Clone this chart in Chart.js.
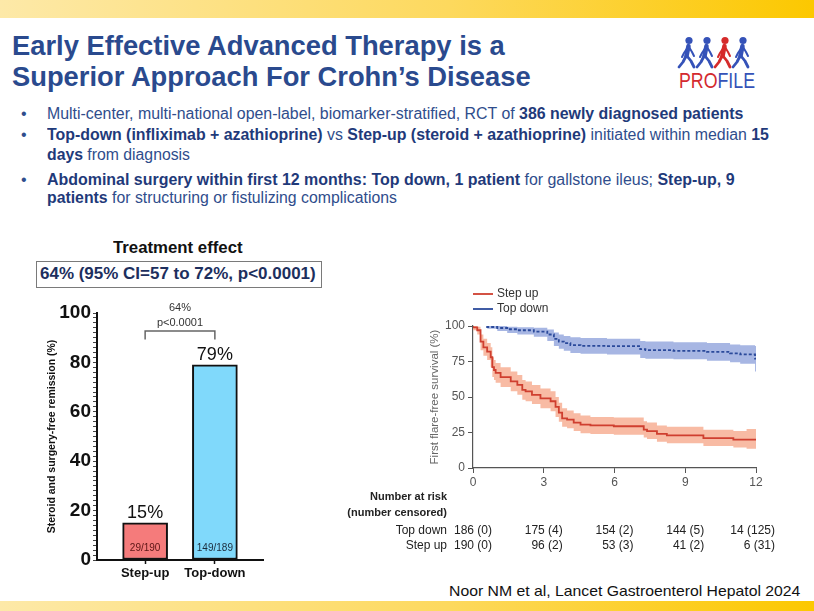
<!DOCTYPE html>
<html>
<head>
<meta charset="utf-8">
<script src="https://cdn.jsdelivr.net/npm/chart.js@4.4.1/dist/chart.umd.min.js"></script>
<style>
  body { margin:0; width:814px; height:611px; position:relative; overflow:hidden; background:#fff;
         font-family:'Liberation Sans', Arial, sans-serif; }
  .band { position:absolute; left:0; width:814px;
          background:linear-gradient(to right, #fde9a8 0%, #fdd95e 55%, #fcc800 100%); }
  .t { position:absolute; white-space:nowrap; transform-origin:0 0; line-height:1; }
  .title { font-size:28px; font-weight:bold; color:#2a4a8e; }
  .bl { font-size:16px; color:#2f4d8c; }
  .bl b { color:#1f3a7a; }
  .dot { position:absolute; left:21px; font-size:16px; line-height:1; color:#2f4d8c; }
  canvas { position:absolute; }
</style>
</head>
<body>

<div class="band" style="top:0;height:18px"></div>
<div class="band" style="top:601px;height:10px"></div>

<div class="t title" style="left:12px;top:32px" data-w="493">Early Effective Advanced Therapy is a</div>
<div class="t title" style="left:12px;top:63px" data-w="519">Superior Approach For Crohn’s Disease</div>

<svg style="position:absolute;left:676px;top:36px" width="84" height="56" id="logo"></svg>

<div class="dot" style="top:106px">•</div>
<div class="t bl" style="left:47px;top:106px" data-w="696">Multi-center, multi-national open-label, biomarker-stratified, RCT of <b>386 newly diagnosed patients</b></div>
<div class="dot" style="top:127px">•</div>
<div class="t bl" style="left:47px;top:127px" data-w="722"><b>Top-down (infliximab + azathioprine)</b> vs <b>Step-up (steroid + azathioprine)</b> initiated within median <b>15</b></div>
<div class="t bl" style="left:47px;top:147px" data-w="143"><b>days</b> from diagnosis</div>
<div class="dot" style="top:172px">•</div>
<div class="t bl" style="left:47px;top:172px" data-w="688"><b>Abdominal surgery within first 12 months: Top down, 1 patient</b> for gallstone ileus; <b>Step-up, 9</b></div>
<div class="t bl" style="left:47px;top:190px" data-w="350"><b>patients</b> for structuring or fistulizing complications</div>

<div class="t" style="left:113px;top:240px;font-size:16px;font-weight:bold;color:#111" data-w="130">Treatment effect</div>
<div style="position:absolute;left:36px;top:261px;width:284px;height:25px;border:1.5px solid #7a7a7a"></div>
<div class="t" style="left:40px;top:266px;font-size:16px;font-weight:bold;color:#1d2f5e" data-w="276">64% (95% CI=57 to 72%, p&lt;0.0001)</div>

<canvas id="bars" width="290" height="300" style="left:30px;top:290px"></canvas>
<canvas id="km" width="440" height="285" style="left:340px;top:280px"></canvas>

<div class="t" style="left:449px;top:583px;font-size:15px;color:#111" data-w="351">Noor NM et al, Lancet Gastroenterol Hepatol 2024</div>

<script>
// ---- bar chart data
const barLabels = ['Step-up', 'Top-down'];
const barValues = [15, 79];
const barCounts = ['29/190', '149/189'];
const barColors = ['#f57b7b', '#80d9fb'];

// ---- Kaplan-Meier data (months, % flare-free)
const stepUpX     = [0, 0.18, 0.32, 0.44, 0.6, 0.75, 0.82, 0.89, 0.96, 1.17, 1.6, 1.88, 2.09, 2.23, 2.5, 2.86, 3.29, 3.5, 3.64, 3.78, 3.99, 4.27, 4.56, 4.98, 5.97, 7.24, 7.38, 7.8, 8.22, 9.77, 11.04, 11.6, 12];
const stepUpSurv  = [100, 99, 97, 89, 85, 82, 78, 71, 69, 67, 64, 61, 58.5, 55, 54, 51.5, 49, 47, 43, 39, 35, 34, 32, 30.5, 30, 29.4, 27, 26, 24, 23, 21, 20, 20];
const stepUpUpper = [100, 100, 99.5, 94, 91, 88, 85, 78, 76, 74, 71, 68, 65.5, 62, 61, 58.5, 56, 54, 50, 46, 42, 40.5, 38.5, 37, 36, 35.5, 33, 32, 30, 29, 27, 26, 27.5];
const stepUpLower = [100, 97, 94, 83, 79, 76, 71, 64, 62, 60, 57, 54, 51.5, 48, 47, 45, 42, 40, 36, 32.5, 29, 28, 26, 24.5, 24, 23.5, 21.5, 20.5, 18.5, 17.5, 15.5, 14.5, 13.5];

const topDownX     = [0.6, 1.03, 1.45, 1.88, 2.58, 3.15, 3.43, 3.64, 3.85, 4.13, 4.56, 5.68, 7.09, 7.31, 8.5, 9.92, 10.9, 11.33, 11.96, 12];
const topDownSurv  = [100, 99.3, 98.6, 97.7, 97, 96, 94, 91, 89, 88, 86.5, 86, 85.8, 83.7, 83, 82.5, 81.8, 80.7, 80, 77];
const topDownUpper = [100, 100, 100, 99.5, 99.2, 98.8, 97.5, 95.5, 94, 93, 92, 91.5, 91, 89.5, 89, 88.5, 88, 87, 86.5, 86];
const topDownLower = [100, 98, 96.5, 95, 94, 92.5, 89.5, 86, 84, 82.5, 81, 80.5, 80, 77.5, 77, 76.5, 75.5, 74.5, 73.5, 68];

// ---- number at risk table
const riskTimes   = [0, 3, 6, 9, 12];
const topDownRisk = ['186 (0)', '175 (4)', '154 (2)', '144 (5)', '14 (125)'];
const stepUpRisk  = ['190 (0)', '96 (2)', '53 (3)', '41 (2)', '6 (31)'];

// squeeze text lines to the widths of the slide
document.querySelectorAll('[data-w]').forEach(el => {
  el.style.transform = 'scaleX(' + (el.dataset.w / el.offsetWidth) + ')';
});

// logo: four walkers + PROFILE
(function () {
  const svg = document.getElementById('logo');
  const cols = ['#3552b8', '#3552b8', '#d52b2b', '#3552b8'];
  let s = '';
  cols.forEach((c, k) => {
    const x = 9 + k * 18;
    s += `<g stroke="${c}" fill="none" stroke-linecap="round" stroke-linejoin="round">
      <circle cx="${x + 4}" cy="4.5" r="3.6" fill="${c}" stroke="none"/>
      <line x1="${x + 3.5}" y1="10" x2="${x + 1.5}" y2="20" stroke-width="4.5"/>
      <polyline points="${x + 3},11 ${x - 1},17 ${x - 3},21" stroke-width="2"/>
      <polyline points="${x + 4},11 ${x + 7},16 ${x + 9},20" stroke-width="2"/>
      <polyline points="${x + 1},20 ${x - 2},26 ${x - 6},31" stroke-width="2.8"/>
      <polyline points="${x + 2},20 ${x + 6},25 ${x + 9},31" stroke-width="2.8"/></g>`;
  });
  s += `<text x="3" y="52" font-family="Liberation Sans Narrow, Liberation Sans, Arial" font-size="22" textLength="76" lengthAdjust="spacingAndGlyphs"><tspan fill="#d42a2f">PRO</tspan><tspan fill="#3552b8">FILE</tspan></text>`;
  svg.innerHTML = s;
})();

// ---- bar chart
const barExtras = {
  id: 'barExtras',
  afterDatasetsDraw(chart) {
    const { ctx, scales: { y } } = chart;
    const bars = chart.getDatasetMeta(0).data;
    ctx.save();
    ctx.textAlign = 'center';
    bars.forEach((bar, i) => {
      ctx.fillStyle = '#111';
      ctx.font = '18px "Liberation Sans", Arial';
      ctx.textBaseline = 'alphabetic';
      ctx.fillText(barValues[i] + '%', bar.x, bar.y - 5);
      ctx.font = '10px "Liberation Sans", Arial';
      ctx.fillStyle = i === 0 ? '#5a1414' : '#1b2b3b';
      ctx.textBaseline = 'middle';
      ctx.fillText(barCounts[i], bar.x, y.getPixelForValue(4.8));
    });
    // significance bracket
    const x1 = bars[0].x, x2 = bars[1].x;
    const yb = y.getPixelForValue(92.7), yl = y.getPixelForValue(89.3);
    ctx.strokeStyle = '#666';
    ctx.lineWidth = 1.5;
    ctx.beginPath();
    ctx.moveTo(x1, yl); ctx.lineTo(x1, yb); ctx.lineTo(x2, yb); ctx.lineTo(x2, yl);
    ctx.stroke();
    ctx.fillStyle = '#333';
    ctx.font = '11px "Liberation Sans", Arial';
    ctx.textBaseline = 'middle';
    ctx.fillText('64%', (x1 + x2) / 2, y.getPixelForValue(102));
    ctx.fillText('p<0.0001', (x1 + x2) / 2, y.getPixelForValue(96));
    ctx.restore();
  }
};

new Chart(document.getElementById('bars'), {
  type: 'bar',
  data: {
    datasets: [{
      data: barValues.map((v, i) => ({ x: i + 1, y: v })),
      backgroundColor: barColors,
      borderColor: '#111',
      borderWidth: 2,
      borderSkipped: false,
      barThickness: 45
    }]
  },
  options: {
    responsive: false,
    animation: false,
    layout: { padding: { left: 0, top: 23, right: 57, bottom: 0 } },
    plugins: { legend: { display: false }, tooltip: { enabled: false } },
    scales: {
      x: {
        type: 'linear', min: 0.31, max: 2.69, offset: false,
        afterBuildTicks: s => { s.ticks = barLabels.map((l, i) => ({ value: i + 1 })); },
        ticks: { callback: v => barLabels[v - 1], color: '#111', font: { weight: 'bold', size: 13 }, padding: 2, autoSkip: false, maxRotation: 0 },
        grid: { offset: false, drawOnChartArea: false, tickLength: 4, tickColor: '#111', tickWidth: 1.5 },
        border: { color: '#111', width: 2 },
        afterFit: s => { s.height = 30; }
      },
      y: {
        min: 0, max: 100,
        ticks: { stepSize: 2, autoSkip: false, callback: v => (v % 20 === 0 ? v : ''), color: '#111', font: { weight: 'bold', size: 19 }, padding: 2 },
        grid: { drawOnChartArea: false, tickLength: 4, tickColor: '#444' },
        border: { color: '#111', width: 2 },
        title: { display: true, text: 'Steroid and surgery-free remission (%)', color: '#111', font: { weight: 'bold', size: 10.5 }, padding: { top: 16, bottom: 0 } },
        afterFit: s => { s.width = 67; }
      }
    }
  },
  plugins: [barExtras]
});

// ---- Kaplan-Meier chart
const toPts = (xs, ys) => xs.map((x, i) => ({ x, y: ys[i] }));
const noLine = { borderColor: 'rgba(0,0,0,0)', borderWidth: 1, pointRadius: 0, stepped: 'after' };
const kmFont = '"Liberation Sans", Arial, sans-serif';

const kmExtras = {
  id: 'kmExtras',
  afterDraw(chart) {
    const { ctx, chartArea: a, scales: { x } } = chart;
    ctx.save();
    // legend
    [0, 1].forEach(i => {
      const ds = chart.data.datasets[i];
      const yy = a.top - 32 + i * 15;
      ctx.strokeStyle = ds.borderColor;
      ctx.lineWidth = 1.8;
      ctx.setLineDash([]);
      ctx.beginPath(); ctx.moveTo(a.left, yy); ctx.lineTo(a.left + 20, yy); ctx.stroke();
      ctx.fillStyle = '#333';
      ctx.font = '12px ' + kmFont;
      ctx.textAlign = 'left'; ctx.textBaseline = 'middle';
      ctx.fillText(ds.label, a.left + 24, yy);
    });
    // number at risk
    const lx = a.left - 26;
    ctx.fillStyle = '#222';
    ctx.textAlign = 'right'; ctx.textBaseline = 'middle';
    ctx.font = 'bold 11px ' + kmFont;
    ctx.fillText('Number at risk', lx, a.bottom + 29);
    ctx.fillText('(number censored)', lx, a.bottom + 45);
    ctx.font = '12px ' + kmFont;
    ctx.fillText('Top down', lx, a.bottom + 63);
    ctx.fillText('Step up', lx, a.bottom + 78);
    riskTimes.forEach((t, i) => {
      const px = x.getPixelForValue(t) + 19;
      ctx.fillText(topDownRisk[i], px, a.bottom + 63);
      ctx.fillText(stepUpRisk[i], px, a.bottom + 78);
    });
    ctx.restore();
  }
};

new Chart(document.getElementById('km'), {
  type: 'line',
  data: {
    datasets: [
      { label: 'Step up', data: toPts(stepUpX, stepUpSurv), borderColor: '#cf3f2f', borderWidth: 1.8, pointRadius: 0, stepped: 'after', fill: false },
      { label: 'Top down', data: toPts(topDownX, topDownSurv), borderColor: '#2b4a9b', borderWidth: 1.8, borderDash: [3, 2], pointRadius: 0, stepped: 'after', fill: false },
      { ...noLine, data: toPts(stepUpX, stepUpUpper), fill: '+1', backgroundColor: '#f8bba4' },
      { ...noLine, data: toPts(stepUpX, stepUpLower), fill: false },
      { ...noLine, data: toPts(topDownX, topDownUpper), fill: '+1', backgroundColor: '#a7b6e3' },
      { ...noLine, data: toPts(topDownX, topDownLower), fill: false }
    ]
  },
  options: {
    responsive: false,
    animation: false,
    layout: { padding: { left: 80, top: 46, right: 24, bottom: 0 } },
    plugins: { legend: { display: false }, tooltip: { enabled: false } },
    scales: {
      x: {
        type: 'linear', min: 0, max: 12,
        ticks: { stepSize: 3, color: '#555', font: { size: 12, family: kmFont }, padding: 2 },
        grid: { drawOnChartArea: false, tickLength: 5, tickColor: '#555' },
        border: { color: '#555', width: 1.2 },
        afterFit: s => { s.height = 97; }
      },
      y: {
        min: 0, max: 100,
        ticks: { stepSize: 25, color: '#555', font: { size: 12, family: kmFont }, padding: 3 },
        grid: { drawOnChartArea: false, tickLength: 5, tickColor: '#555' },
        border: { color: '#555', width: 1.2 },
        title: { display: true, text: 'First flare-free survival (%)', color: '#666', font: { size: 11.5, family: kmFont }, padding: { top: 8, bottom: 0 } },
        afterFit: s => { s.width = 53; }
      }
    }
  },
  plugins: [kmExtras]
});
</script>
</body>
</html>
